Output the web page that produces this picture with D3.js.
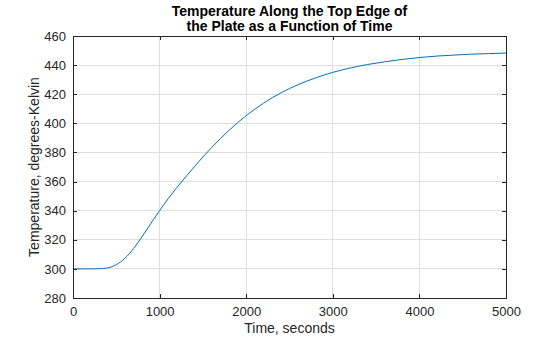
<!DOCTYPE html>
<html><head><meta charset="utf-8">
<script src="https://cdn.jsdelivr.net/npm/d3@7"></script>
<style>body{margin:0;background:#fff}svg{display:block}text{font-family:"Liberation Sans",Arial,Helvetica,sans-serif}</style>
</head><body>
<svg id="c" width="560" height="337"></svg>
<script>
const times = [0,100,200,300,400,500,600,700,800,900,1000,1100,1200,1300,1400,1500,1600,1700,1800,1900,2000,2200,2400,2600,2800,3000,3200,3400,3600,3800,4000,4200,4400,4600,4800,5000];
const temps = [300,300,300,300.1,300.7,302.9,307.3,314.0,322.4,331.3,340,348.3,355.9,363.1,370.1,376.9,383.3,389.4,395.1,400.4,405.3,413.8,420.9,426.6,431.2,435.0,438.0,440.4,442.3,443.9,445.2,446.2,446.9,447.5,447.9,448.3];
const xTicks = [0,1000,2000,3000,4000,5000];
const yTicks = [280,300,320,340,360,380,400,420,440,460];
const titleLines = ["Temperature Along the Top Edge of","the Plate as a Function of Time"];
const xLabel = "Time, seconds";
const yLabel = "Temperature, degrees-Kelvin";

const svg = d3.select("#c");
const L=73,R=506,T=36,B=298;
const x = d3.scaleLinear().domain([0,5000]).range([L,R]);
const y = d3.scaleLinear().domain([280,460]).range([B,T]);
const axisCol="#262626";

// grid
svg.append("g").selectAll("line").data(xTicks).join("line")
  .attr("x1",d=>x(d)).attr("x2",d=>x(d)).attr("y1",T).attr("y2",B)
  .attr("stroke","#dfdfdf").attr("stroke-width",1).attr("shape-rendering","crispEdges");
svg.append("g").selectAll("line").data(yTicks).join("line")
  .attr("x1",L).attr("x2",R).attr("y1",d=>y(d)).attr("y2",d=>y(d))
  .attr("stroke","#dfdfdf").attr("stroke-width",1).attr("shape-rendering","crispEdges");

// line
const data = times.map((t,i)=>({t,v:temps[i]}));
svg.append("path").datum(data)
  .attr("d",d3.line().x(d=>x(d.t)).y(d=>y(d.v)).curve(d3.curveMonotoneX))
  .attr("fill","none").attr("stroke","#0072BD").attr("stroke-width",1);

// axes
const fmt = d3.format("d");
const gB = svg.append("g").attr("transform",`translate(0,${B})`)
  .call(d3.axisBottom(x).tickValues(xTicks).tickFormat(fmt).tickSizeInner(-4).tickSizeOuter(0).tickPadding(9));
const gT = svg.append("g").attr("transform",`translate(0,${T})`)
  .call(d3.axisTop(x).tickValues(xTicks).tickFormat("").tickSizeInner(-4).tickSizeOuter(0));
const gL = svg.append("g").attr("transform",`translate(${L},0)`)
  .call(d3.axisLeft(y).tickValues(yTicks).tickFormat(fmt).tickSizeInner(-4).tickSizeOuter(0).tickPadding(7));
const gR = svg.append("g").attr("transform",`translate(${R},0)`)
  .call(d3.axisRight(y).tickValues(yTicks).tickFormat("").tickSizeInner(-4).tickSizeOuter(0));
[gB,gT,gL,gR].forEach(g=>{
  g.selectAll("path,line").attr("stroke",axisCol).attr("shape-rendering","crispEdges");
  g.selectAll("text").attr("fill",axisCol).style("font-size","13px").style("font-family",'"Liberation Sans",Arial,sans-serif');
});

// labels
svg.append("text").attr("x",(L+R)/2).attr("y",333).attr("text-anchor","middle")
  .attr("fill",axisCol).style("font-size","14px").text(xLabel);
svg.append("text").attr("transform",`translate(39,${(T+B)/2}) rotate(-90)`).attr("text-anchor","middle")
  .attr("fill",axisCol).style("font-size","14px").text(yLabel);
svg.append("g").selectAll("text").data(titleLines).join("text")
  .attr("x",(L+R)/2).attr("y",(d,i)=>16+i*15).attr("text-anchor","middle")
  .attr("fill","#000").style("font-size","14px").style("font-weight","bold").text(d=>d);
</script>
</body></html>
